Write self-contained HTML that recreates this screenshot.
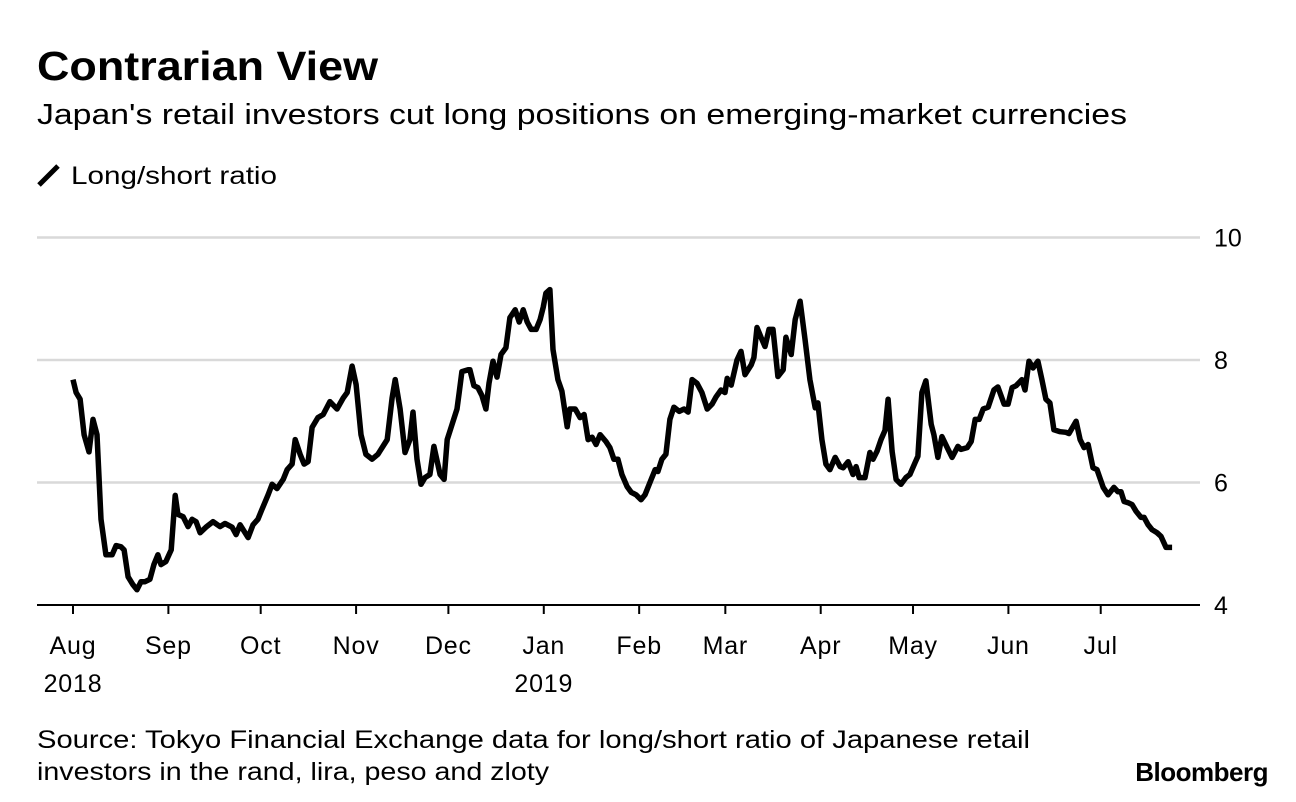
<!DOCTYPE html>
<html><head><meta charset="utf-8"><style>
body{margin:0;background:#fff;font-family:"Liberation Sans",Arial,sans-serif;}
svg{display:block}
</style></head><body>
<svg id="chart" width="1296" height="802">
<text x="37" y="80" font-size="41" font-weight="bold" fill="#000" textLength="341" lengthAdjust="spacingAndGlyphs">Contrarian View</text>
<text x="37" y="124" font-size="29" fill="#000" textLength="1090" lengthAdjust="spacingAndGlyphs">Japan's retail investors cut long positions on emerging-market currencies</text>
<g>
<line x1="39" y1="185" x2="58" y2="166" stroke="#000" stroke-width="5"/>
<text x="71" y="184" font-size="25" fill="#000" textLength="206" lengthAdjust="spacingAndGlyphs">Long/short ratio</text>
</g>
<g id="grid"></g><g id="axes"></g><g id="series"></g>
<text x="37" y="748" font-size="25" fill="#000" textLength="993" lengthAdjust="spacingAndGlyphs">Source: Tokyo Financial Exchange data for long/short ratio of Japanese retail</text>
<text x="37" y="780" font-size="25" fill="#000" textLength="512" lengthAdjust="spacingAndGlyphs">investors in the rand, lira, peso and zloty</text>
<text x="1268" y="781" font-size="26" font-weight="bold" text-anchor="end" fill="#000" letter-spacing="-0.5">Bloomberg</text>
</svg>
<script>
const days=[0,1.0,2.3,3.6,5.2,6.5,7.8,9.1,10.7,12.7,14.0,15.6,16.6,17.9,19.5,20.8,22.1,23.4,25.0,26.3,27.6,28.6,30.2,31.9,33.2,34.1,35.8,37.4,38.7,40.0,41.3,43.2,45.5,47.8,49.4,51.7,53.0,54.3,56.9,58.5,60.1,61.4,63.4,64.7,66.3,68.3,69.6,71.2,72.2,73.8,75.1,76.4,77.7,79.6,81.3,83.5,85.8,87.8,89.1,90.7,92.0,93.6,95.2,97.2,99.1,101.1,102.1,103.7,104.7,106.3,107.9,109.5,110.5,111.8,113.1,114.4,116.0,117.3,119.3,120.6,121.6,123.2,124.8,125.5,126.4,128.4,129.0,130.3,131.6,132.9,134.2,135.2,136.5,137.8,139.1,140.7,142.0,143.7,145.0,146.3,147.6,148.9,150.5,151.8,152.8,153.7,155.0,156.0,157.6,158.9,160.6,161.5,163.2,164.8,166.1,167.4,168.7,170.0,171.3,173.2,174.5,175.8,177.1,178.4,180.1,181.4,183.0,184.6,185.9,187.9,189.2,190.1,191.4,192.7,194.0,195.3,197.0,198.6,199.9,201.2,202.8,204.4,206.1,207.7,209.0,210.6,211.9,212.6,213.9,215.8,217.1,218.4,220.4,221.3,222.3,223.6,224.9,226.2,227.5,229.1,230.8,231.7,233.4,234.7,236.3,237.9,239.5,241.2,242.1,243.4,244.7,246.0,247.7,249.3,250.3,251.9,253.5,254.5,255.5,257.4,259.0,260.0,261.3,262.6,263.9,264.9,266.2,267.5,269.1,270.7,272.0,273.7,274.6,275.9,277.2,278.9,279.8,281.1,282.4,284.1,285.7,287.6,288.6,290.6,291.9,293.2,294.5,295.8,297.4,299.3,300.6,302.6,303.9,305.2,306.5,308.4,309.4,310.7,312.0,313.6,314.9,316.2,317.5,318.8,320.8,322.7,323.7,326.0,327.3,328.6,329.9,331.5,332.8,334.8,336.4,338.3,339.6,340.6,341.6,342.9,344.2,345.5,347.1,348.1,349.4,350.7,352.3,353.6,355.2,357.2];
const ratio=[7.68,7.47,7.36,6.78,6.5,7.03,6.78,5.4,4.82,4.82,4.97,4.95,4.9,4.46,4.33,4.25,4.38,4.38,4.42,4.66,4.82,4.66,4.71,4.9,5.79,5.48,5.44,5.28,5.4,5.36,5.18,5.27,5.36,5.28,5.33,5.27,5.15,5.31,5.1,5.31,5.4,5.56,5.8,5.97,5.9,6.05,6.21,6.3,6.7,6.46,6.3,6.34,6.9,7.06,7.11,7.32,7.2,7.38,7.47,7.9,7.6,6.78,6.46,6.38,6.46,6.62,6.7,7.38,7.68,7.2,6.49,6.7,7.15,6.38,5.97,6.08,6.13,6.59,6.13,6.05,6.7,6.95,7.2,7.47,7.81,7.84,7.84,7.58,7.55,7.42,7.2,7.62,7.98,7.72,8.09,8.2,8.69,8.82,8.62,8.82,8.62,8.5,8.5,8.66,8.86,9.09,9.15,8.17,7.68,7.49,6.91,7.2,7.2,7.06,7.11,6.7,6.74,6.62,6.78,6.67,6.57,6.38,6.38,6.13,5.93,5.84,5.8,5.72,5.8,6.05,6.21,6.18,6.38,6.46,7.03,7.23,7.16,7.2,7.15,7.68,7.62,7.47,7.2,7.28,7.4,7.51,7.47,7.7,7.59,8.0,8.14,7.76,7.92,8.04,8.53,8.37,8.22,8.5,8.5,7.73,7.84,8.37,8.09,8.66,8.96,8.34,7.68,7.22,7.3,6.7,6.3,6.21,6.41,6.26,6.24,6.34,6.13,6.26,6.08,6.08,6.49,6.38,6.51,6.7,6.85,7.36,6.51,6.05,5.97,6.08,6.13,6.33,6.43,7.47,7.66,6.95,6.78,6.41,6.75,6.57,6.41,6.59,6.54,6.57,6.67,7.03,7.03,7.2,7.23,7.51,7.56,7.28,7.28,7.55,7.58,7.68,7.51,7.98,7.87,7.98,7.68,7.36,7.30,6.86,6.83,6.82,6.8,7.0,6.7,6.57,6.62,6.24,6.21,5.92,5.8,5.92,5.85,5.85,5.69,5.67,5.64,5.53,5.43,5.43,5.31,5.23,5.18,5.12,4.94,4.94];
const yTicks=[4,6,8,10];
const monthDays=[0,31,61,92,122,153,184,212,243,273,304,334];
const monthLabels=["Aug","Sep","Oct","Nov","Dec","Jan","Feb","Mar","Apr","May","Jun","Jul"];
const yearLabels=["2018","","","","","2019","","","","","",""];

const NS="http://www.w3.org/2000/svg";
const xs=d=>73+d*3.077;
const ys=v=>605-(v-4)*61.25;
function mk(tag,attrs,parent){const e=document.createElementNS(NS,tag);for(const k in attrs)e.setAttribute(k,attrs[k]);parent.appendChild(e);return e;}
const grid=document.getElementById('grid'),axes=document.getElementById('axes'),series=document.getElementById('series');
yTicks.forEach(t=>{
  if(t>4){const l=mk('line',{x1:37,x2:1200,y1:ys(t),y2:ys(t),stroke:'#d9d9d9','stroke-width':2.5},grid);
  
  }
  const tx=mk('text',{x:1214,y:ys(t)+9,'font-size':25,fill:'#000'},axes);tx.textContent=t;
  
  
});
const base=mk('line',{x1:37,x2:1200,y1:605,y2:605,stroke:'#000','stroke-width':2},axes);


monthDays.forEach((d,i)=>{
  const t=mk('line',{x1:xs(d),x2:xs(d),y1:605,y2:614,stroke:'#000','stroke-width':2},axes);
  
  
  const tx=mk('text',{x:xs(d),y:654,'font-size':25,'text-anchor':'middle',fill:'#000','letter-spacing':'0.8'},axes);tx.textContent=monthLabels[i];
  
  
  if(yearLabels[i]){const y=mk('text',{x:xs(d),y:692,'font-size':25,'text-anchor':'middle',fill:'#000','letter-spacing':'0.8'},axes);y.textContent=yearLabels[i];
  
  }
});
const p=mk('path',{d:days.map((d,i)=>(i?'L':'M')+xs(d).toFixed(1)+','+ys(ratio[i]).toFixed(1)).join(''),fill:'none',stroke:'#000','stroke-width':5.5,'stroke-linejoin':'round'},series);


</script>
</body></html>
